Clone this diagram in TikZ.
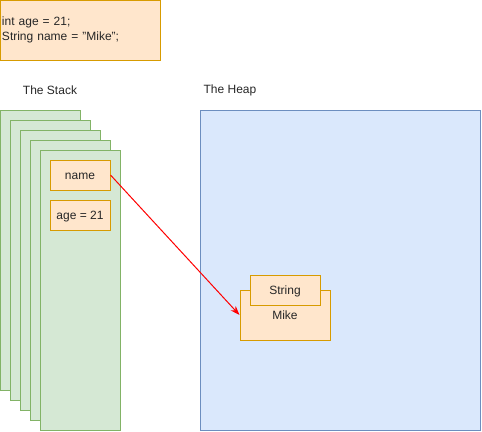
\documentclass[tikz,border=0pt]{standalone}
\usepackage{fontspec}
\setmainfont{Liberation Sans}
\usetikzlibrary{arrows.meta}
\definecolor{codeFill}{HTML}{FFE6CC}
\definecolor{codeLine}{HTML}{D79B00}
\definecolor{stackFill}{HTML}{D5E8D4}
\definecolor{stackLine}{HTML}{82B366}
\definecolor{heapFill}{HTML}{DAE8FC}
\definecolor{heapLine}{HTML}{6C8EBF}
\newcommand{\stackFrame}[2]{%%
  \node[frameStyle] (#1) at (#2) {};
}

\begin{document}
\begin{tikzpicture}[%%
  x=0.75pt,y=-0.75pt,
  every node/.style={font=\fontsize{9pt}{11.5pt}\selectfont,text=black!85},
  codeStyle/.style={draw=codeLine,fill=codeFill,line width=0.75pt,inner sep=0pt},
  boxStyle/.style={codeStyle,text height=9pt,text depth=2pt},
  frameStyle/.style={draw=stackLine,fill=stackFill,line width=0.75pt,minimum width=60pt,minimum height=210pt,inner sep=0pt},
  heapStyle/.style={draw=heapLine,fill=heapFill,line width=0.75pt,minimum width=210pt,minimum height=240pt,inner sep=0pt},
  refStyle/.style={-{Stealth[length=7pt,width=5pt]},red,line width=0.75pt}%%
]
%%
\useasboundingbox (0,0) rectangle (482,432);
%%
%% The code.
\node[codeStyle,minimum width=120pt,minimum height=45pt,text width=117pt,align=left,inner xsep=1.5pt] (code) at (80,30) {int age = 21;\\String name = "Mike";};
%%
%% Labels.
\node (stackLabel) at (50,90) {The Stack};
\node (heapLabel) at (230,90) {The Heap};
%%
%% The stack frames.
\foreach \i in {0,...,4}{%%
  \stackFrame{frame\i}{40+10*\i,250+10*\i}
}
\node[boxStyle,minimum width=45pt,minimum height=22.5pt] (name) at (80,175) {name};
\node[boxStyle,minimum width=45pt,minimum height=22.5pt] (age) at (80,215) {age = 21};
%%
%% The heap.
\node[heapStyle] (heap) at (340,270) {};
\node[boxStyle,minimum width=67.5pt,minimum height=37.5pt] (mike) at (285,315) {Mike};
\node[boxStyle,minimum width=52.5pt,minimum height=22.5pt] (string) at (285,290) {String};
%%
%% The reference.
\draw[refStyle] (name.east) -- (mike.west);
\end{tikzpicture}
\end{document}
